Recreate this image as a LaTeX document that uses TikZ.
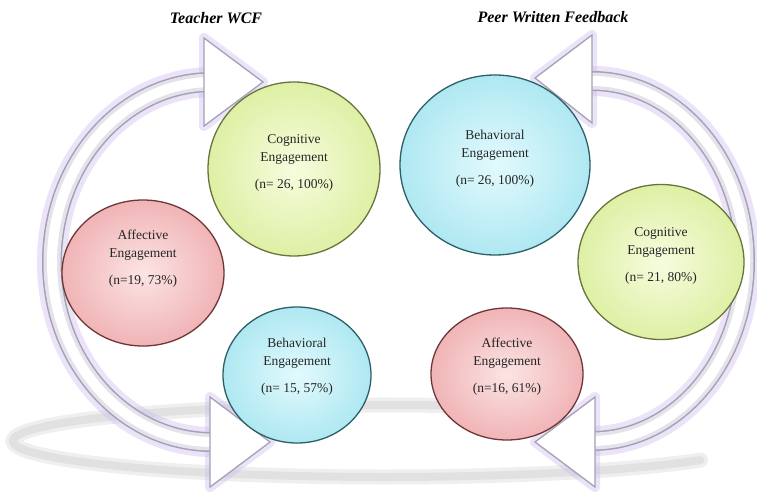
\documentclass[tikz,border=0pt]{standalone}
\usepackage{fontspec}
\setmainfont{Liberation Serif}
\usetikzlibrary{shapes.geometric}
\definecolor{grnIn}{RGB}{246,252,222}
\definecolor{grnOut}{RGB}{222,240,165}
\definecolor{grnBd}{RGB}{105,115,60}
\definecolor{pnkIn}{RGB}{252,228,228}
\definecolor{pnkOut}{RGB}{240,180,182}
\definecolor{pnkBd}{RGB}{110,55,55}
\definecolor{bluIn}{RGB}{226,250,253}
\definecolor{bluOut}{RGB}{175,232,242}
\definecolor{bluBd}{RGB}{45,95,105}
\definecolor{glowC}{RGB}{205,185,238}
\definecolor{arrBd}{RGB}{165,160,180}
\definecolor{arrMid}{RGB}{228,226,234}
\tikzset{
  bubble/.style={ellipse, line width=1.3pt, inner sep=0pt},
  grn/.style={bubble, draw=grnBd, inner color=grnIn, outer color=grnOut},
  pnk/.style={bubble, draw=pnkBd, inner color=pnkIn, outer color=pnkOut},
  blu/.style={bubble, draw=bluBd, inner color=bluIn, outer color=bluOut},
  lbl/.style={align=center, font=\fontsize{13.5}{18}\selectfont, text=black!85},
  ttl/.style={font=\fontsize{16}{18}\selectfont\bfseries\itshape},
  glowline/.style={line width=30pt, draw=glowC, opacity=0.4},
  shaftbd/.style={line width=20pt, draw=arrBd},
  shaftmid/.style={line width=17pt, draw=arrMid},
  shaftin/.style={line width=10pt, draw=white},
  headglow/.style={draw=glowC, line width=10pt, line join=round, opacity=0.4},
  headbox/.style={fill=white, draw=arrBd, line width=1.3pt, line join=miter},
  shadowln/.style={draw=gray, opacity=0.12, line cap=round}
}
\begin{document}
\begin{tikzpicture}[x=1pt,y=1pt]
\path[use as bounding box, fill=white] (0,0) rectangle (757,499);
% shadow ring
\foreach \w in {15,8}{
  \draw[shadowln, line width=\w pt] (385,58) ++(78:372 and 36) arc[start angle=78, end angle=328, x radius=372, y radius=36];
}
% arrow coordinates
\coordinate (LT) at (212,417);
\coordinate (LB) at (212,57);
\coordinate (RT) at (592,418);
\coordinate (RB) at (592,58);
% glows
\draw[glowline] (LT) arc[start angle=90, end angle=270, x radius=160, y radius=180];
\draw[glowline] (RT) arc[start angle=90, end angle=-90, x radius=153, y radius=180];
\draw[headglow] (204,461) -- (263,417) -- (204,373) -- cycle;
\draw[headglow] (210,102) -- (270,57) -- (210,12) -- cycle;
\draw[headglow] (592,464) -- (535,421) -- (592,376) -- cycle;
\draw[headglow] (595,102) -- (535,57) -- (595,12) -- cycle;
% shafts
\foreach \s in {shaftbd,shaftmid,shaftin}{
  \draw[\s] (LT) arc[start angle=90, end angle=270, x radius=160, y radius=180];
  \draw[\s] (RT) arc[start angle=90, end angle=-90, x radius=153, y radius=180];
}
% heads
\draw[headbox] (204,461) -- (263,417) -- (204,373) -- cycle;
\draw[headbox] (210,102) -- (270,57) -- (210,12) -- cycle;
\draw[headbox] (592,464) -- (535,421) -- (592,376) -- cycle;
\draw[headbox] (595,102) -- (535,57) -- (595,12) -- cycle;
% titles
\node[ttl] (t1) at (216,481) {Teacher WCF};
\node[ttl] (t2) at (553,482) {Peer Written Feedback};
% bubbles
\node[grn, minimum width=172pt, minimum height=174pt] (cogL) at (294,330) {};
\node[pnk, minimum width=162pt, minimum height=146pt] (affL) at (143,226) {};
\node[blu, minimum width=148pt, minimum height=136pt] (behL) at (297,124) {};
\node[blu, minimum width=190pt, minimum height=180pt] (behR) at (495,334) {};
\node[grn, minimum width=166pt, minimum height=155pt] (cogR) at (661,237) {};
\node[pnk, minimum width=152pt, minimum height=132pt] (affR) at (507,125) {};
% labels
\node[lbl] (cogLt) at ([yshift=6pt]cogL.center) {Cognitive\\Engagement\\[9pt](n= 26, 100\%)};
\node[lbl] (affLt) at ([yshift=14pt]affL.center) {Affective\\Engagement\\[9pt](n=19, 73\%)};
\node[lbl] (behLt) at ([yshift=8pt]behL.center) {Behavioral\\Engagement\\[9pt](n= 15, 57\%)};
\node[lbl] (behRt) at ([yshift=6pt]behR.center) {Behavioral\\Engagement\\[9pt](n= 26, 100\%)};
\node[lbl] (cogRt) at ([yshift=6pt]cogR.center) {Cognitive\\Engagement\\[9pt](n= 21, 80\%)};
\node[lbl] (affRt) at ([yshift=7pt]affR.center) {Affective\\Engagement\\[9pt](n=16, 61\%)};
\end{tikzpicture}
\end{document}
